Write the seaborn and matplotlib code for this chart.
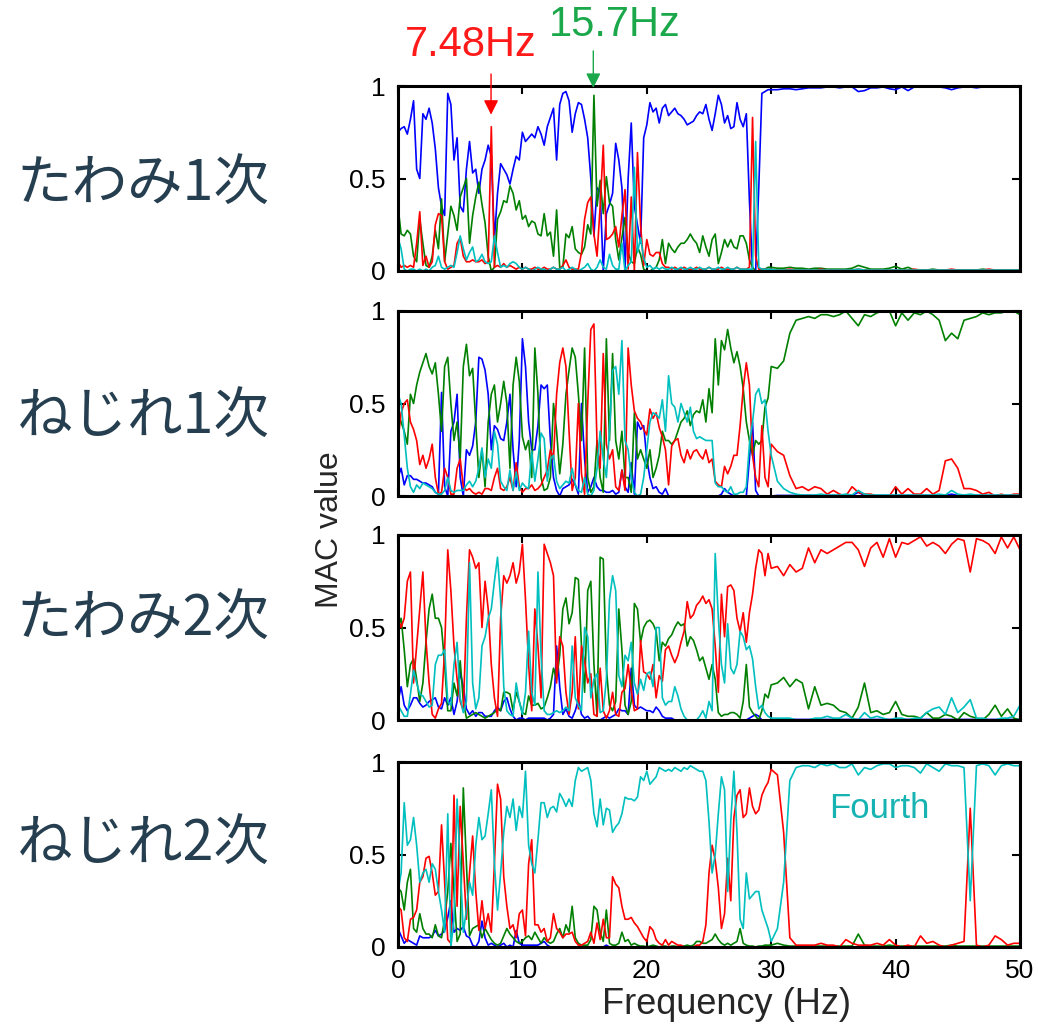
import numpy as np
import pandas as pd
import seaborn as sns
import matplotlib
matplotlib.use("Agg")
import matplotlib.pyplot as plt

sns.set_style("ticks")
plt.rcParams['font.family'] = ['Liberation Sans', 'Noto Sans CJK JP', 'DejaVu Sans']

# frequency axis: 0.25 Hz steps up to 30 Hz, then 0.5 Hz steps up to 50 Hz
freq = np.concatenate([np.arange(121) * 0.25, 30.5 + np.arange(40) * 0.5])

row_labels = ["たわみ1次", "ねじれ1次", "たわみ2次", "ねじれ2次"]
series_names = ["blue", "green", "red", "cyan"]
series_colors = {"blue": "#0000ff", "green": "#008000", "red": "#ff0000", "cyan": "#00bfbf"}

# ---------------- たわみ1次 ----------------
p1_blue = [0.75, 0.77, 0.78, 0.74, 0.82, 0.92, 0.55, 0.50, 0.85, 0.82,
           0.88, 0.80, 0.66, 0.45, 0.35, 0.30, 0.96, 0.90, 0.60, 0.72,
           0.35, 0.32, 0.55, 0.70, 0.53, 0.55, 0.42, 0.55, 0.60, 0.68,
           0.62, 0.17, 0.42, 0.58, 0.55, 0.52, 0.47, 0.55, 0.62, 0.60,
           0.75, 0.70, 0.72, 0.74, 0.72, 0.78, 0.74, 0.68, 0.78, 0.83,
           0.88, 0.60, 0.90, 0.96, 0.97, 0.92, 0.75, 0.85, 0.91, 0.90,
           0.82,
           0.72, 0.50, 0.19, 0.45, 0.43, 0.00, 0.31, 0.36, 0.42, 0.69,
           0.60, 0.45, 0.00, 0.50, 0.80, 0.35, 0.25, 0.15, 0.72, 0.79,
           0.91, 0.86, 0.88, 0.80, 0.88, 0.90, 0.84, 0.86, 0.88, 0.85,
           0.84, 0.82, 0.79, 0.80, 0.81, 0.84, 0.86, 0.85, 0.90, 0.82,
           0.76, 0.85, 0.95, 0.90, 0.80, 0.84, 0.77, 0.78, 0.91, 0.82,
           0.78, 0.85, 0.38, 0.00, 0.00, 0.45, 0.96, 0.97, 0.98, 0.98,
           0.98, 0.985, 0.985, 0.98, 0.985, 0.99, 0.99, 0.99, 0.995, 0.995,
           0.99, 0.995, 0.995, 0.97, 0.975, 0.99, 0.99, 0.995, 0.985, 0.98,
           0.995, 0.975, 0.995, 0.995, 0.995, 0.995, 0.995, 0.99, 0.98, 0.99,
           0.995, 0.995, 0.99, 0.995, 0.995, 0.995, 1.0, 1.0, 1.0, 0.995]
p1_green = [0.35, 0.20, 0.19, 0.22, 0.20, 0.08, 0.05, 0.28, 0.15, 0.03,
            0.02, 0.08, 0.22, 0.12, 0.39, 0.05, 0.20, 0.35, 0.30, 0.22,
            0.40, 0.45, 0.50, 0.15, 0.30, 0.40, 0.48, 0.36, 0.26, 0.08,
            0.00, 0.02, 0.28, 0.32, 0.38, 0.37, 0.46, 0.42, 0.33, 0.38,
            0.28, 0.30, 0.24, 0.27, 0.26, 0.20, 0.19, 0.31, 0.19, 0.21,
            0.08, 0.33, 0.02, 0.02, 0.20, 0.18, 0.24, 0.12, 0.10, 0.09,
            0.13,
            0.25, 0.20, 0.95, 0.35, 0.49, 0.31, 0.51, 0.37, 0.35, 0.17,
            0.06, 0.18, 0.29, 0.10, 0.05, 0.04, 0.13, 0.09, 0.01, 0.00,
            0.00, 0.01, 0.02, 0.06, 0.17, 0.04, 0.15, 0.12, 0.10, 0.13,
            0.15, 0.15, 0.17, 0.20, 0.17, 0.15, 0.10, 0.19, 0.13, 0.08,
            0.17, 0.20, 0.04, 0.10, 0.17, 0.13, 0.17, 0.13, 0.12, 0.19,
            0.19, 0.15, 0.06, 0.02, 0.00, 0.00, 0.01, 0.01, 0.02, 0.02,
            0.015, 0.015, 0.02, 0.015, 0.015, 0.01, 0.015, 0.015, 0.01, 0.01,
            0.01, 0.01, 0.015, 0.03, 0.02, 0.01, 0.01, 0.01, 0.015, 0.025,
            0.01, 0.02, 0.005, 0.005, 0.005, 0.01, 0.005, 0.005, 0.005, 0.005,
            0.005, 0.005, 0.005, 0.01, 0.005, 0.005, 0.005, 0.005, 0.005, 0.005]
p1_red = [0.05, 0.02, 0.03, 0.02, 0.03, 0.02, 0.15, 0.32, 0.03, 0.08,
          0.02, 0.05, 0.25, 0.31, 0.30, 0.05, 0.01, 0.02, 0.03, 0.15,
          0.18, 0.08, 0.05, 0.05, 0.06, 0.05, 0.05, 0.06, 0.04, 0.05,
          0.78, 0.02, 0.03, 0.02, 0.04, 0.02, 0.03, 0.02, 0.01, 0.02,
          0.01, 0.02, 0.01, 0.01, 0.02, 0.01, 0.01, 0.02, 0.01, 0.01,
          0.02, 0.01, 0.01, 0.03, 0.06, 0.02, 0.01, 0.01, 0.01, 0.10,
          0.28,
          0.37, 0.40, 0.20, 0.08, 0.35, 0.68, 0.17, 0.18, 0.20, 0.24,
          0.13, 0.30, 0.44, 0.01, 0.40, 0.00, 0.64, 0.25, 0.03, 0.17,
          0.09, 0.08, 0.10, 0.10, 0.04, 0.02, 0.02, 0.01, 0.02, 0.01,
          0.01, 0.02, 0.01, 0.01, 0.01, 0.02, 0.01, 0.01, 0.01, 0.02,
          0.01, 0.01, 0.01, 0.02, 0.01, 0.01, 0.01, 0.01, 0.02, 0.01,
          0.01, 0.01, 0.02, 0.83, 0.08, 0.01, 0.01, 0.01, 0.01, 0.01,
          0.005, 0.005, 0.01, 0.005, 0.005, 0.005, 0.005, 0.01, 0.005, 0.005,
          0.005, 0.005, 0.005, 0.01, 0.005, 0.005, 0.005, 0.005, 0.005, 0.005,
          0.005, 0.005, 0.01, 0.005, 0.005, 0.005, 0.005, 0.005, 0.01, 0.005,
          0.005, 0.005, 0.005, 0.005, 0.01, 0.005, 0.005, 0.005, 0.005, 0.005]
p1_cyan = [0.18, 0.12, 0.01, 0.00, 0.01, 0.01, 0.00, 0.01, 0.00, 0.01,
           0.00, 0.02, 0.03, 0.08, 0.02, 0.01, 0.02, 0.03, 0.02, 0.10,
           0.19, 0.12, 0.06, 0.10, 0.13, 0.05, 0.06, 0.09, 0.05, 0.04,
           0.05, 0.19, 0.10, 0.02, 0.03, 0.02, 0.04, 0.05, 0.04, 0.02,
           0.01, 0.02, 0.01, 0.00, 0.01, 0.02, 0.01, 0.01, 0.00, 0.01,
           0.02, 0.01, 0.01, 0.02, 0.00, 0.01, 0.02, 0.01, 0.00, 0.01,
           0.02,
           0.04, 0.01, 0.00, 0.02, 0.06, 0.02, 0.01, 0.09, 0.03, 0.01,
           0.01, 0.15, 0.00, 0.03, 0.05, 0.56, 0.10, 0.18, 0.07, 0.02,
           0.03, 0.01, 0.02, 0.01, 0.02, 0.01, 0.01, 0.02, 0.01, 0.01,
           0.02, 0.01, 0.01, 0.02, 0.01, 0.01, 0.02, 0.01, 0.01, 0.02,
           0.01, 0.01, 0.02, 0.01, 0.01, 0.02, 0.01, 0.01, 0.02, 0.01,
           0.01, 0.01, 0.01, 0.01, 0.70, 0.02, 0.01, 0.01, 0.01, 0.01,
           0.005, 0.005, 0.005, 0.005, 0.005, 0.005, 0.005, 0.005, 0.005, 0.005,
           0.005, 0.005, 0.005, 0.01, 0.005, 0.005, 0.005, 0.005, 0.005, 0.005,
           0.005, 0.005, 0.005, 0.005, 0.005, 0.005, 0.005, 0.005, 0.005, 0.005,
           0.005, 0.005, 0.005, 0.005, 0.005, 0.005, 0.005, 0.005, 0.005, 0.005]

# ---------------- ねじれ1次 ----------------
p2_blue = [0.10, 0.15, 0.06, 0.11, 0.11, 0.09, 0.09, 0.08, 0.07, 0.07,
           0.06, 0.05, 0.02, 0.01, 0.56, 0.05, 0.00, 0.35, 0.40, 0.55,
           0.10, 0.00, 0.25, 0.22, 0.27, 0.40, 0.75, 0.74, 0.68, 0.55,
           0.25, 0.38, 0.36, 0.31, 0.30, 0.40, 0.55, 0.25, 0.05, 0.30,
           0.85, 0.70, 0.40, 0.25, 0.25, 0.38, 0.60, 0.58, 0.60, 0.30,
           0.10, 0.03, 0.00, 0.04, 0.05, 0.06, 0.09, 0.06, 0.01, 0.50,
           0.20,
           0.02, 0.05, 0.10, 0.05, 0.03, 0.03, 0.02, 0.02, 0.03, 0.01,
           0.02, 0.14, 0.05, 0.02, 0.18, 0.01, 0.40, 0.36, 0.38, 0.20,
           0.10, 0.04, 0.05, 0.02, 0.01, 0.04, 0.00, 0.00, 0.00, 0.00,
           0.00, 0.00, 0.00, 0.00, 0.00, 0.00, 0.00, 0.00, 0.00, 0.00,
           0.00, 0.00, 0.00, 0.01, 0.04, 0.02, 0.01, 0.00, 0.00, 0.00,
           0.00, 0.00, 0.20, 0.40, 0.03, 0.00, 0.00, 0.00, 0.00, 0.00,
           0.003, 0.003, 0.003, 0.003, 0.003, 0.003, 0.003, 0.003, 0.003, 0.003,
           0.003, 0.003, 0.003, 0.02, 0.003, 0.003, 0.003, 0.003, 0.003, 0.003,
           0.003, 0.003, 0.003, 0.003, 0.003, 0.003, 0.003, 0.003, 0.01, 0.003,
           0.003, 0.003, 0.003, 0.003, 0.003, 0.003, 0.003, 0.003, 0.003, 0.003]
p2_green = [0.45, 0.40, 0.35, 0.28, 0.55, 0.50, 0.60, 0.67, 0.72, 0.77,
            0.70, 0.66, 0.72, 0.55, 0.35, 0.70, 0.75, 0.50, 0.30, 0.40,
            0.20, 0.70, 0.82, 0.65, 0.69, 0.40, 0.10, 0.25, 0.05, 0.40,
            0.55, 0.60, 0.40, 0.50, 0.62, 0.50, 0.15, 0.60, 0.75, 0.62,
            0.32, 0.25, 0.30, 0.10, 0.80, 0.55, 0.10, 0.03, 0.04, 0.10,
            0.50, 0.35, 0.12, 0.28, 0.55, 0.68, 0.80, 0.75, 0.55, 0.30,
            0.80,
            0.10, 0.02, 0.05, 0.30, 0.10, 0.02, 0.85, 0.30, 0.77, 0.30,
            0.20, 0.35, 0.10, 0.10, 0.02, 0.45, 0.20, 0.25, 0.20, 0.15,
            0.25, 0.10, 0.15, 0.22, 0.35, 0.30, 0.30, 0.28, 0.30, 0.35,
            0.40, 0.42, 0.46, 0.38, 0.44, 0.46, 0.45, 0.52, 0.40, 0.58,
            0.45, 0.85, 0.60, 0.84, 0.79, 0.90, 0.80, 0.72, 0.78, 0.70,
            0.58, 0.40, 0.30, 0.22, 0.30, 0.28, 0.30, 0.48, 0.53, 0.70,
            0.69, 0.73, 0.88, 0.95, 0.96, 0.97, 0.96, 0.98, 0.98, 0.97,
            0.98, 1.00, 0.96, 0.92, 0.98, 0.97, 0.99, 1.00, 1.00, 0.92,
            0.99, 0.95, 0.99, 0.98, 1.00, 0.98, 0.95, 0.84, 0.88, 0.85,
            0.95, 0.96, 0.97, 0.99, 0.98, 0.99, 0.99, 1.00, 1.00, 0.98]
p2_red = [0.30, 0.45, 0.50, 0.52, 0.40, 0.36, 0.30, 0.17, 0.22, 0.15,
          0.20, 0.28, 0.10, 0.01, 0.02, 0.15, 0.10, 0.01, 0.01, 0.15,
          0.20, 0.05, 0.03, 0.04, 0.02, 0.01, 0.02, 0.01, 0.04, 0.04,
          0.03, 0.10, 0.15, 0.04, 0.03, 0.05, 0.10, 0.03, 0.18, 0.05,
          0.02, 0.04, 0.04, 0.06, 0.03, 0.04, 0.06, 0.10, 0.14, 0.25,
          0.20, 0.55, 0.72, 0.80, 0.70, 0.35, 0.03, 0.10, 0.50, 0.12,
          0.01,
          0.50, 0.90, 0.93, 0.28, 0.15, 0.77, 0.28, 0.20, 0.25, 0.05,
          0.03, 0.14, 0.03, 0.80, 0.60, 0.46, 0.42, 0.40, 0.36, 0.33,
          0.47, 0.42, 0.45, 0.37, 0.32, 0.25, 0.06, 0.27, 0.30, 0.31,
          0.22, 0.18, 0.25, 0.20, 0.24, 0.25, 0.22, 0.20, 0.25, 0.18,
          0.20, 0.08, 0.06, 0.05, 0.16, 0.12, 0.16, 0.22, 0.22, 0.38,
          0.58, 0.72, 0.60, 0.22, 0.10, 0.05, 0.38, 0.10, 0.05, 0.28,
          0.24, 0.22, 0.11, 0.04, 0.05, 0.03, 0.05, 0.04, 0.01, 0.03,
          0.01, 0.00, 0.05, 0.02, 0.01, 0.01, 0.00, 0.00, 0.00, 0.05,
          0.01, 0.04, 0.01, 0.01, 0.04, 0.01, 0.03, 0.19, 0.20, 0.15,
          0.04, 0.04, 0.03, 0.01, 0.02, 0.00, 0.01, 0.00, 0.01, 0.01]
p2_cyan = [0.55, 0.50, 0.33, 0.15, 0.05, 0.02, 0.06, 0.04, 0.07, 0.06,
           0.05, 0.04, 0.02, 0.01, 0.01, 0.03, 0.10, 0.03, 0.02, 0.03,
           0.03, 0.03, 0.06, 0.08, 0.05, 0.08, 0.15, 0.26, 0.10, 0.20,
           0.15, 0.35, 0.28, 0.08, 0.05, 0.03, 0.14, 0.03, 0.13, 0.03,
           0.07, 0.05, 0.04, 0.24, 0.08, 0.20, 0.34, 0.31, 0.08, 0.20,
           0.22, 0.08, 0.04, 0.06, 0.08, 0.07, 0.15, 0.06, 0.03, 0.02,
           0.10,
           0.01, 0.00, 0.03, 0.15, 0.35, 0.20, 0.10, 0.35, 0.68, 0.70,
           0.55, 0.84, 0.30, 0.25, 0.10, 0.02, 0.00, 0.01, 0.10, 0.25,
           0.40, 0.45, 0.44, 0.42, 0.52, 0.35, 0.65, 0.50, 0.48, 0.40,
           0.50, 0.45, 0.40, 0.48, 0.35, 0.31, 0.32, 0.31, 0.30, 0.30,
           0.30, 0.07, 0.05, 0.05, 0.03, 0.02, 0.05, 0.01, 0.01, 0.02,
           0.02, 0.05, 0.28, 0.40, 0.55, 0.58, 0.50, 0.52, 0.35, 0.22,
           0.08, 0.04, 0.02, 0.01, 0.005, 0.005, 0.005, 0.01, 0.005, 0.005,
           0.005, 0.01, 0.005, 0.03, 0.01, 0.005, 0.005, 0.005, 0.005, 0.005,
           0.005, 0.005, 0.005, 0.005, 0.005, 0.005, 0.01, 0.005, 0.03, 0.01,
           0.005, 0.01, 0.005, 0.005, 0.005, 0.005, 0.005, 0.005, 0.005, 0.005]

# ---------------- たわみ2次 ----------------
p3_blue = [0.10, 0.18, 0.08, 0.05, 0.08, 0.12, 0.12, 0.09, 0.07, 0.08,
           0.10, 0.11, 0.12, 0.07, 0.06, 0.12, 0.08, 0.12, 0.03, 0.10,
           0.26, 0.18, 0.06, 0.03, 0.05, 0.02, 0.04, 0.04, 0.02, 0.02,
           0.02, 0.05, 0.07, 0.05, 0.10, 0.12, 0.06, 0.02, 0.00, 0.01,
           0.01, 0.00, 0.01, 0.01, 0.01, 0.01, 0.01, 0.01, 0.00, 0.01,
           0.03, 0.40, 0.18, 0.03, 0.06, 0.02, 0.01, 0.05, 0.11, 0.03,
           0.01,
           0.02, 0.00, 0.00, 0.00, 0.00, 0.01, 0.02, 0.01, 0.02, 0.03,
           0.06, 0.05, 0.05, 0.03, 0.28, 0.08, 0.06, 0.07, 0.06, 0.05,
           0.05, 0.04, 0.07, 0.05, 0.02, 0.01, 0.01, 0.01, 0.00, 0.00,
           0.00, 0.00, 0.00, 0.00, 0.00, 0.00, 0.00, 0.00, 0.00, 0.00,
           0.00, 0.00, 0.00, 0.00, 0.00, 0.00, 0.00, 0.00, 0.00, 0.00,
           0.00, 0.00, 0.01, 0.02, 0.03, 0.02, 0.00, 0.00, 0.00, 0.00,
           0.003, 0.003, 0.003, 0.003, 0.003, 0.003, 0.003, 0.003, 0.003, 0.003,
           0.003, 0.003, 0.003, 0.003, 0.003, 0.003, 0.003, 0.003, 0.003, 0.003,
           0.003, 0.003, 0.003, 0.003, 0.003, 0.003, 0.003, 0.003, 0.003, 0.003,
           0.003, 0.003, 0.003, 0.003, 0.003, 0.003, 0.003, 0.003, 0.003, 0.003]
p3_green = [0.50, 0.55, 0.38, 0.18, 0.30, 0.33, 0.22, 0.10, 0.20, 0.42,
            0.60, 0.68, 0.55, 0.55, 0.50, 0.30, 0.05, 0.05, 0.20, 0.13,
            0.32, 0.10, 0.01, 0.02, 0.03, 0.04, 0.03, 0.02, 0.01, 0.02,
            0.03, 0.04, 0.06, 0.05, 0.15, 0.15, 0.14, 0.05, 0.15, 0.10,
            0.04, 0.03, 0.13, 0.08, 0.08, 0.09, 0.06, 0.07, 0.12, 0.18,
            0.28, 0.22, 0.35, 0.60, 0.66, 0.52, 0.58, 0.77, 0.76, 0.40,
            0.15,
            0.70, 0.75, 0.30, 0.02, 0.88, 0.87, 0.28, 0.08, 0.05, 0.10,
            0.60, 0.38, 0.08, 0.03, 0.10, 0.63, 0.60, 0.42, 0.50, 0.53,
            0.54, 0.52, 0.48, 0.32, 0.42, 0.40, 0.44, 0.46, 0.50, 0.53,
            0.51, 0.52, 0.40, 0.45, 0.43, 0.38, 0.32, 0.34, 0.28, 0.22,
            0.30, 0.22, 0.04, 0.02, 0.03, 0.03, 0.04, 0.04, 0.03, 0.01,
            0.10, 0.30, 0.07, 0.04, 0.02, 0.00, 0.05, 0.14, 0.12, 0.19,
            0.20, 0.23, 0.18, 0.22, 0.20, 0.06, 0.18, 0.08, 0.09, 0.08,
            0.05, 0.04, 0.01, 0.07, 0.20, 0.04, 0.05, 0.03, 0.04, 0.10,
            0.03, 0.02, 0.02, 0.01, 0.04, 0.01, 0.01, 0.03, 0.02, 0.00,
            0.04, 0.02, 0.01, 0.00, 0.03, 0.08, 0.02, 0.06, 0.01, 0.00]
p3_red = [0.55, 0.50, 0.55, 0.75, 0.80, 0.20, 0.40, 0.60, 0.80, 0.43,
          0.20, 0.03, 0.01, 0.06, 0.09, 0.38, 0.92, 0.70, 0.40, 0.22,
          0.10, 0.05, 0.55, 0.92, 0.88, 0.82, 0.85, 0.50, 0.75, 0.60,
          0.30, 0.12, 0.02, 0.55, 0.78, 0.74, 0.78, 0.85, 0.74, 0.80,
          0.95, 0.65, 0.30, 0.05, 0.60, 0.40, 0.12, 0.95, 0.90, 0.85,
          0.78, 0.20, 0.45, 0.40, 0.15, 0.03, 0.15, 0.45, 0.06, 0.40,
          0.32,
          0.20, 0.25, 0.03, 0.02, 0.28, 0.05, 0.01, 0.05, 0.15, 0.03,
          0.02, 0.15, 0.17, 0.30, 0.16, 0.05, 0.06, 0.43, 0.26, 0.25,
          0.22, 0.30, 0.12, 0.24, 0.21, 0.38, 0.40, 0.35, 0.31, 0.35,
          0.42, 0.48, 0.64, 0.55, 0.57, 0.62, 0.64, 0.67, 0.63, 0.65,
          0.60, 0.40, 0.15, 0.68, 0.45, 0.72, 0.73, 0.70, 0.55, 0.48,
          0.58, 0.42, 0.58, 0.68, 0.82, 0.92, 0.90, 0.78, 0.90, 0.82,
          0.83, 0.78, 0.84, 0.80, 0.82, 0.93, 0.85, 0.92, 0.90, 0.92,
          0.94, 0.96, 0.96, 0.92, 0.83, 0.93, 0.96, 0.88, 0.98, 0.88,
          0.96, 0.95, 0.97, 0.99, 0.94, 0.96, 0.94, 0.90, 0.95, 0.98,
          0.97, 0.80, 0.98, 0.97, 0.95, 0.90, 0.99, 0.93, 0.99, 0.92]
p3_cyan = [0.08, 0.05, 0.02, 0.02, 0.14, 0.27, 0.20, 0.14, 0.13, 0.10,
           0.07, 0.08, 0.30, 0.35, 0.35, 0.38, 0.10, 0.08, 0.30, 0.42,
           0.12, 0.04, 0.10, 0.85, 0.20, 0.06, 0.12, 0.40, 0.45, 0.55,
           0.60, 0.75, 0.88, 0.65, 0.18, 0.05, 0.03, 0.02, 0.20, 0.10,
           0.03, 0.15, 0.48, 0.15, 0.08, 0.80, 0.35, 0.05, 0.03, 0.03,
           0.04, 0.05, 0.04, 0.05, 0.07, 0.05, 0.40, 0.12, 0.08, 0.05,
           0.50,
           0.45, 0.12, 0.22, 0.25, 0.04, 0.05, 0.22, 0.65, 0.78, 0.70,
           0.24, 0.18, 0.35, 0.32, 0.42, 0.20, 0.14, 0.22, 0.16, 0.25,
           0.26, 0.18, 0.50, 0.50, 0.12, 0.08, 0.10, 0.10, 0.18, 0.13,
           0.06, 0.02, 0.00, 0.00, 0.00, 0.00, 0.02, 0.05, 0.01, 0.10,
           0.05, 0.90, 0.55, 0.30, 0.20, 0.52, 0.28, 0.25, 0.30, 0.48,
           0.45, 0.38, 0.40, 0.33, 0.18, 0.06, 0.08, 0.04, 0.02, 0.01,
           0.01, 0.01, 0.01, 0.00, 0.00, 0.00, 0.01, 0.01, 0.02, 0.01,
           0.01, 0.03, 0.01, 0.00, 0.04, 0.01, 0.02, 0.01, 0.00, 0.01,
           0.01, 0.00, 0.01, 0.01, 0.04, 0.06, 0.07, 0.03, 0.12, 0.04,
           0.07, 0.11, 0.01, 0.01, 0.00, 0.00, 0.01, 0.01, 0.02, 0.08]

# ---------------- ねじれ2次 ----------------
p4_blue = [0.10, 0.06, 0.02, 0.04, 0.03, 0.02, 0.01, 0.06, 0.05, 0.05,
           0.05, 0.06, 0.09, 0.06, 0.07, 0.09, 0.16, 0.25, 0.08, 0.10,
           0.09, 0.11, 0.06, 0.05, 0.01, 0.00, 0.03, 0.14, 0.05, 0.01,
           0.02, 0.01, 0.00, 0.01, 0.02, 0.00, 0.01, 0.00, 0.09, 0.02,
           0.01, 0.01, 0.01, 0.01, 0.01, 0.01, 0.02, 0.03, 0.01, 0.00,
           0.00, 0.00, 0.00, 0.00, 0.00, 0.00, 0.00, 0.00, 0.00, 0.00,
           0.00,
           0.00, 0.00, 0.00, 0.00, 0.00, 0.00, 0.01, 0.00, 0.00, 0.00,
           0.00, 0.00, 0.00, 0.00, 0.00, 0.00, 0.00, 0.00, 0.00, 0.00,
           0.00, 0.00, 0.00, 0.00, 0.00, 0.00, 0.00, 0.00, 0.00, 0.00,
           0.00, 0.00, 0.00, 0.00, 0.00, 0.00, 0.00, 0.00, 0.00, 0.00,
           0.00, 0.00, 0.00, 0.00, 0.00, 0.00, 0.00, 0.00, 0.00, 0.00,
           0.00, 0.00, 0.00, 0.00, 0.00, 0.00, 0.00, 0.00, 0.00, 0.00,
           0.00, 0.00, 0.00, 0.00, 0.00, 0.00, 0.00, 0.00, 0.00, 0.00,
           0.00, 0.00, 0.00, 0.00, 0.00, 0.00, 0.00, 0.00, 0.00, 0.00,
           0.00, 0.00, 0.00, 0.00, 0.00, 0.00, 0.00, 0.00, 0.00, 0.00,
           0.00, 0.00, 0.00, 0.00, 0.00, 0.00, 0.00, 0.00, 0.00, 0.00]
p4_green = [0.32, 0.30, 0.20, 0.35, 0.42, 0.10, 0.08, 0.18, 0.10, 0.07,
            0.07, 0.05, 0.12, 0.06, 0.05, 0.15, 0.30, 0.56, 0.30, 0.03,
            0.07, 0.86, 0.45, 0.06, 0.10, 0.11, 0.12, 0.05, 0.10, 0.07,
            0.04, 0.02, 0.01, 0.02, 0.06, 0.10, 0.07, 0.05, 0.03, 0.02,
            0.03, 0.05, 0.06, 0.04, 0.08, 0.05, 0.02, 0.05, 0.03, 0.02,
            0.03, 0.07, 0.10, 0.05, 0.12, 0.08, 0.22, 0.05, 0.02, 0.01,
            0.01,
            0.01, 0.04, 0.22, 0.20, 0.08, 0.03, 0.20, 0.02, 0.01, 0.01,
            0.02, 0.08, 0.03, 0.04, 0.01, 0.02, 0.01, 0.005, 0.005, 0.00,
            0.005, 0.01, 0.005, 0.00, 0.005, 0.005, 0.00, 0.005, 0.005, 0.00,
            0.005, 0.005, 0.01, 0.005, 0.01, 0.03, 0.03, 0.02, 0.02, 0.03,
            0.04, 0.07, 0.04, 0.02, 0.01, 0.02, 0.01, 0.02, 0.03, 0.10,
            0.02, 0.01, 0.005, 0.005, 0.00, 0.005, 0.005, 0.01, 0.01, 0.01,
            0.02, 0.01, 0.005, 0.005, 0.005, 0.005, 0.005, 0.005, 0.005, 0.005,
            0.005, 0.005, 0.005, 0.07, 0.01, 0.005, 0.005, 0.005, 0.01, 0.005,
            0.005, 0.005, 0.005, 0.005, 0.005, 0.005, 0.005, 0.005, 0.01, 0.005,
            0.005, 0.005, 0.005, 0.005, 0.005, 0.005, 0.005, 0.005, 0.005, 0.005]
p4_red = [0.22, 0.20, 0.05, 0.03, 0.15, 0.16, 0.20, 0.35, 0.38, 0.48,
          0.49, 0.40, 0.28, 0.30, 0.66, 0.35, 0.04, 0.02, 0.82, 0.22,
          0.76, 0.45, 0.15, 0.40, 0.60, 0.30, 0.09, 0.25, 0.10, 0.18,
          0.08, 0.45, 0.88, 0.80, 0.38, 0.22, 0.10, 0.12, 0.05, 0.18,
          0.20, 0.06, 0.45, 0.58, 0.12, 0.12, 0.08, 0.10, 0.03, 0.05,
          0.18, 0.10, 0.08, 0.05, 0.07, 0.07, 0.08, 0.03, 0.01, 0.01,
          0.02,
          0.03, 0.08, 0.02, 0.13, 0.04, 0.15, 0.05, 0.05, 0.38, 0.34,
          0.32, 0.22, 0.15, 0.15, 0.16, 0.13, 0.11, 0.08, 0.05, 0.03,
          0.11, 0.09, 0.04, 0.02, 0.01, 0.04, 0.01, 0.03, 0.02, 0.01,
          0.01, 0.00, 0.00, 0.00, 0.00, 0.01, 0.01, 0.03, 0.12, 0.40,
          0.55, 0.47, 0.32, 0.10, 0.18, 0.48, 0.25, 0.70, 0.82, 0.85,
          0.70, 0.72, 0.86, 0.76, 0.72, 0.74, 0.82, 0.86, 0.89, 0.96,
          0.93, 0.62, 0.05, 0.01, 0.01, 0.01, 0.01, 0.02, 0.01, 0.01,
          0.00, 0.04, 0.02, 0.01, 0.01, 0.01, 0.02, 0.01, 0.04, 0.01,
          0.00, 0.01, 0.00, 0.06, 0.02, 0.03, 0.01, 0.00, 0.01, 0.02,
          0.03, 0.75, 0.01, 0.00, 0.01, 0.06, 0.04, 0.01, 0.02, 0.02]
p4_cyan = [0.30, 0.40, 0.78, 0.55, 0.58, 0.70, 0.55, 0.35, 0.40, 0.42,
           0.35, 0.45, 0.42, 0.30, 0.20, 0.08, 0.72, 0.00, 0.15, 0.80,
           0.45, 0.08, 0.20, 0.35, 0.28, 0.55, 0.70, 0.58, 0.60, 0.72,
           0.85, 0.45, 0.20, 0.40, 0.62, 0.76, 0.70, 0.80, 0.63, 0.76,
           0.70, 0.95, 0.55, 0.45, 0.40, 0.58, 0.78, 0.78, 0.70, 0.75,
           0.76, 0.73, 0.83, 0.80, 0.76, 0.80, 0.76, 0.90, 0.97, 0.95,
           0.96,
           0.97, 0.90, 0.72, 0.65, 0.80, 0.66, 0.75, 0.74, 0.62, 0.65,
           0.67, 0.72, 0.81, 0.80, 0.80, 0.79, 0.81, 0.92, 0.90, 0.95,
           0.88, 0.90, 0.92, 0.97, 0.96, 0.95, 0.96, 0.95, 0.97, 0.96,
           0.95, 0.97, 0.96, 0.98, 0.97, 0.96, 0.95, 0.95, 0.90, 0.68,
           0.40, 0.50, 0.72, 0.92, 0.85, 0.30, 0.68, 0.95, 0.62, 0.15,
           0.10, 0.40, 0.26, 0.28, 0.30, 0.30, 0.20, 0.15, 0.10, 0.03,
           0.10, 0.35, 0.90, 0.97, 0.98, 0.98, 0.97, 0.99, 0.98, 0.99,
           0.97, 0.97, 0.99, 0.93, 0.97, 0.96, 0.98, 0.99, 0.99, 0.97,
           0.98, 0.98, 0.97, 0.94, 0.99, 0.97, 0.95, 0.99, 0.98, 0.98,
           0.97, 0.25, 0.98, 0.99, 0.98, 0.93, 0.98, 0.99, 0.98, 0.98]

panel_data = [
    [p1_blue, p1_green, p1_red, p1_cyan],
    [p2_blue, p2_green, p2_red, p2_cyan],
    [p3_blue, p3_green, p3_red, p3_cyan],
    [p4_blue, p4_green, p4_red, p4_cyan],
]

frames = []
for label, series in zip(row_labels, panel_data):
    for name, vals in zip(series_names, series):
        assert len(vals) == len(freq), (label, name, len(vals))
        frames.append(pd.DataFrame({"freq": freq, "mac": vals, "series": name, "panel": label}))
df = pd.concat(frames, ignore_index=True)

W, H = 1038, 1027
fig = plt.figure(figsize=(W / 100, H / 100), dpi=100)

ax_left, ax_right = 398, 1020
panel_tops = [86, 311, 535, 762]
panel_h = 185
label_y = [185, 418, 620, 845]
text_dark = "#263f50"

axes = []
for i, label in enumerate(row_labels):
    top = panel_tops[i]
    ax = fig.add_axes([ax_left / W, 1 - (top + panel_h) / H,
                       (ax_right - ax_left) / W, panel_h / H])
    sub = df[df["panel"] == label]
    sns.lineplot(data=sub, x="freq", y="mac", hue="series", hue_order=series_names,
                 palette=series_colors, legend=False, linewidth=1.2, ax=ax)
    ax.set_xlim(0, 50)
    ax.set_ylim(0, 1.0)
    ax.set_yticks([0, 0.5, 1])
    ax.set_yticklabels(["0", "0.5", "1"])
    ax.set_xticks([0, 10, 20, 30, 40, 50])
    ax.set_xlabel("")
    ax.set_ylabel("")
    ax.tick_params(direction="in", top=True, right=True, length=6, width=1.5,
                   labelsize=19, pad=9, colors="black")
    if i < 3:
        ax.set_xticklabels([])
    for s in ax.spines.values():
        s.set_visible(True)
        s.set_linewidth(2.2)
        s.set_color("black")
    fig.text(143 / W, 1 - label_y[i] / H, label, ha="center", va="center",
             fontsize=40, color=text_dark, family=['Noto Sans CJK JP', 'DejaVu Sans'])
    axes.append(ax)

# annotations on the first panel
ax1 = axes[0]
ax1.annotate("", xy=(7.48, 0.83), xytext=(7.48, 1.08),
             arrowprops=dict(arrowstyle="-|>", color="#ff0000", lw=1.0, mutation_scale=22),
             annotation_clip=False)
ax1.annotate("", xy=(15.7, 0.975), xytext=(15.7, 1.205),
             arrowprops=dict(arrowstyle="-|>", color="#1aa84a", lw=1.0, mutation_scale=22),
             annotation_clip=False)
fig.text(471 / W, 1 - 45 / H, "7.48Hz", ha="center", va="center", fontsize=30, color="#ff1a1a")
fig.text(615 / W, 1 - 25 / H, "15.7Hz", ha="center", va="center", fontsize=30, color="#1aa84a")

axes[3].text(38.7, 0.75, "Fourth", ha="center", va="center", fontsize=25, color="#17b3b3")

fig.text(330 / W, 1 - 530 / H, "MAC value", rotation=90, ha="center", va="center", fontsize=23)
fig.text(726 / W, 1 - 1005 / H, "Frequency (Hz)", ha="center", va="center", fontsize=26)

fig.savefig("out.png", dpi=100)
